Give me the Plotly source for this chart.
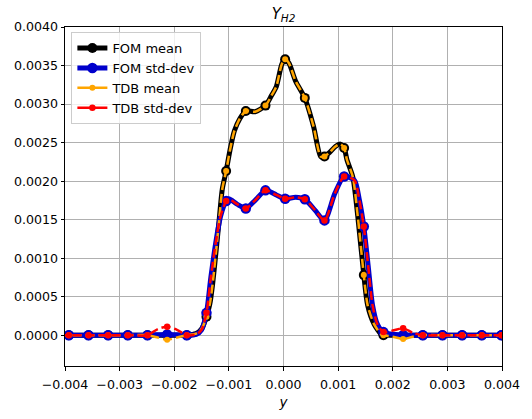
import plotly.graph_objects as go

# ---------------- data ----------------
x_marks = [-0.00393, -0.00357, -0.00321, -0.00285, -0.00249, -0.00213, -0.00177,
           -0.00141, -0.00105, -0.00069, -0.00033, 0.00003, 0.00039, 0.00075,
           0.00111, 0.00147, 0.00183, 0.00219, 0.00255, 0.00291, 0.00327,
           0.00363, 0.00399]
fom_mean_marks = [0, 0, 0, 0, 0, 0, 0, 0.00024, 0.00213, 0.00291, 0.00298, 0.00358,
                  0.00308, 0.00232, 0.00243, 0.00078, 0, 0, 0, 0, 0, 0, 0]
fom_std_marks = [0, 0, 0, 0, 0, 0.00001, 0, 0.00029, 0.00174, 0.001645, 0.00188,
                 0.00177, 0.001765, 0.00149, 0.00206, 0.00141, 0.00004, 0, 0, 0, 0, 0, 0]
tdb_mean_marks = [0, 0, 0, 0, 0, -0.00006, 0, 0.00024, 0.00213, 0.00291, 0.00298,
                  0.00358, 0.00308, 0.00232, 0.00243, 0.00078, 0, -0.00005, 0, 0, 0, 0, 0]
tdb_std_marks = [0, 0, 0, 0, 0, 0.00011, 0, 0.00029, 0.00174, 0.001645, 0.00188,
                 0.00177, 0.001765, 0.00149, 0.00206, 0.00141, 0.00004, 0.00009, 0, 0, 0, 0, 0]

x_fom_mean = [-0.0041, -0.00393, -0.00357, -0.00321, -0.00285, -0.00249, -0.00213,
              -0.00177, -0.0016, -0.0015, -0.00141, -0.00135, -0.0013, -0.00124,
              -0.00118, -0.00112, -0.00105, -0.00098, -0.0009, -0.0008, -0.00069,
              -0.00052, -0.00033, -0.00022, -0.00013, -0.00003, 0.00003, 0.0001,
              0.00022, 0.00039, 0.00055, 0.00068, 0.00075, 0.00084, 0.00095, 0.00104,
              0.00111, 0.00116, 0.00127, 0.00136, 0.00147, 0.00154, 0.00166, 0.00179,
              0.00183, 0.00219, 0.00255, 0.00291, 0.00327, 0.00363, 0.00399, 0.0041]
fom_mean = [0, 0, 0, 0, 0, 0, 0, 0, 0.00002, 0.00008, 0.00024, 0.0004, 0.00065,
            0.00105, 0.00148, 0.0019, 0.00213, 0.0024, 0.00265, 0.00281, 0.00291,
            0.0029, 0.00298, 0.00311, 0.00323, 0.00352, 0.00358, 0.00353, 0.0033,
            0.00308, 0.00271, 0.00232, 0.00232, 0.00237, 0.00245, 0.00248, 0.00243,
            0.00228, 0.00205, 0.00154, 0.00078, 0.00039, 0.00014, 0.00001, 0,
            0, 0, 0, 0, 0, 0, 0]

x_tdb_mean = [-0.0041, -0.00393, -0.00357, -0.00321, -0.00285, -0.00249, -0.0023,
              -0.00213, -0.00195, -0.00177, -0.0016, -0.0015, -0.00141, -0.00135,
              -0.0013, -0.00124, -0.00118, -0.00112, -0.00105, -0.00098, -0.0009,
              -0.0008, -0.00069, -0.00052, -0.00033, -0.00022, -0.00013, -0.00003,
              0.00003, 0.0001, 0.00022, 0.00039, 0.00055, 0.00068, 0.00075, 0.00084,
              0.00095, 0.00104, 0.00111, 0.00116, 0.00127, 0.00136, 0.00147, 0.00154,
              0.00166, 0.00179, 0.00183, 0.002, 0.00219, 0.00237, 0.00255, 0.00291,
              0.00327, 0.00363, 0.00399, 0.0041]
tdb_mean = [0, 0, 0, 0, 0, 0, -0.00003, -0.00006, -0.00003, 0, 0.00002, 0.00008,
            0.00024, 0.0004, 0.00065, 0.00105, 0.00148, 0.0019, 0.00213, 0.0024,
            0.00265, 0.00281, 0.00291, 0.0029, 0.00298, 0.00311, 0.00323, 0.00352,
            0.00358, 0.00353, 0.0033, 0.00308, 0.00271, 0.00232, 0.00232, 0.00237,
            0.00245, 0.00248, 0.00243, 0.00228, 0.00205, 0.00154, 0.00078, 0.00039,
            0.00014, 0.00001, 0, -0.00002, -0.00005, -0.00002, 0, 0, 0, 0, 0, 0]

x_fom_std = [-0.0041, -0.00393, -0.00357, -0.00321, -0.00285, -0.00249, -0.00213,
             -0.00177, -0.0016, -0.0015, -0.00141, -0.00133, -0.00124, -0.00115,
             -0.00105, -0.001, -0.00085, -0.00069, -0.00052, -0.00033, -0.00013,
             0.00003, 0.00022, 0.00039, 0.00058, 0.00075, 0.00094, 0.00111, 0.0013,
             0.00139, 0.00147, 0.00155, 0.00163, 0.00172, 0.00183, 0.00219, 0.00255,
             0.00291, 0.00327, 0.00363, 0.00399, 0.0041]
fom_std = [0, 0, 0, 0, 0, 0, 0.00001, 0, 0.00001, 0.00007, 0.00029, 0.00075, 0.0012,
           0.00155, 0.00174, 0.00177, 0.0017, 0.001645, 0.00175, 0.00188, 0.00182,
           0.00177, 0.00179, 0.001765, 0.00162, 0.00149, 0.00184, 0.00206, 0.00201,
           0.00175, 0.00141, 0.0009, 0.00039, 0.00014, 0.00004, 0, 0, 0, 0, 0, 0, 0]

x_tdb_std = [-0.0041, -0.00393, -0.00357, -0.00321, -0.00285, -0.00249, -0.0023,
             -0.00213, -0.00195, -0.00177, -0.0016, -0.0015, -0.00141, -0.00133,
             -0.00124, -0.00115, -0.00105, -0.001, -0.00085, -0.00069, -0.00052,
             -0.00033, -0.00013, 0.00003, 0.00022, 0.00039, 0.00058, 0.00075, 0.00094,
             0.00111, 0.0013, 0.00139, 0.00147, 0.00155, 0.00163, 0.00172, 0.00183,
             0.002, 0.00219, 0.00237, 0.00255, 0.00291, 0.00327, 0.00363, 0.00399,
             0.0041]
tdb_std = [0, 0, 0, 0, 0, 0, 0.00008, 0.00011, 0.00007, 0, 0.00001, 0.00007, 0.00029,
           0.00075, 0.0012, 0.00155, 0.00174, 0.00177, 0.0017, 0.001645, 0.00175,
           0.00188, 0.00182, 0.00177, 0.00179, 0.001765, 0.00162, 0.00149, 0.00184,
           0.00206, 0.00201, 0.00175, 0.00141, 0.0009, 0.00039, 0.00014, 0.00004,
           0.00006, 0.00009, 0.00003, 0, 0, 0, 0, 0, 0]

x_ticks = [-0.004, -0.003, -0.002, -0.001, 0.0, 0.001, 0.002, 0.003, 0.004]
y_ticks = [0.0, 0.0005, 0.001, 0.0015, 0.002, 0.0025, 0.003, 0.0035, 0.004]

names = ["FOM mean", "FOM std-dev", "TDB mean", "TDB std-dev"]

# ---------------- styles ----------------
series = [
    dict(name=names[0], x=x_fom_mean, y=fom_mean, ym=fom_mean_marks,
         color="#000000", width=5, dash="solid", msize=10),
    dict(name=names[1], x=x_fom_std, y=fom_std, ym=fom_std_marks,
         color="#0000cc", width=5, dash="solid", msize=10.5),
    dict(name=names[2], x=x_tdb_mean, y=tdb_mean, ym=tdb_mean_marks,
         color="#ffa500", width=2.5, dash="9px,4px", msize=6),
    dict(name=names[3], x=x_tdb_std, y=tdb_std, ym=tdb_std_marks,
         color="#ff0000", width=2.5, dash="9px,4px", msize=6.5),
]

fig = go.Figure()
for s in series:
    fig.add_trace(go.Scatter(
        x=s["x"], y=s["y"], mode="lines", showlegend=False, hoverinfo="skip",
        line=dict(color=s["color"], width=s["width"], dash=s["dash"],
                  shape="spline", smoothing=0.7)))
    fig.add_trace(go.Scatter(
        x=x_marks, y=s["ym"], mode="markers", showlegend=False,
        marker=dict(color=s["color"], size=s["msize"], line=dict(width=0))))

for s in series:
    fig.add_trace(go.Scatter(
        x=[None], y=[None], mode="lines+markers", name=s["name"],
        line=dict(color=s["color"], width=s["width"]),
        marker=dict(color=s["color"], size=s["msize"])))

axis_common = dict(
    showgrid=True, gridcolor="#b0b0b0", gridwidth=0.8, zeroline=False,
    showline=True, linecolor="black", linewidth=1, mirror=True,
    ticks="outside", ticklen=3.5, tickwidth=0.8, tickcolor="black",
    tickfont=dict(family="DejaVu Sans", size=12.6, color="black"),
)

fig.update_layout(
    width=532, height=419,
    margin=dict(l=64.5, r=21.5, t=26.7, b=46.7),
    paper_bgcolor="white", plot_bgcolor="white",
    font=dict(family="DejaVu Sans", color="black"),
    title=dict(text="<i>Y</i><sub><i>H2</i></sub>", x=0.5, xref="paper",
               y=1 - 14 / 419, yref="container", xanchor="center", yanchor="middle",
               font=dict(family="DejaVu Sans", size=15, color="black")),
    xaxis=dict(range=[-0.004, 0.004], tickvals=x_ticks, tickformat=".3f",
               ticklabelstandoff=3,
               title=dict(text="<i>y</i>", font=dict(size=13.5), standoff=6),
               **axis_common),
    yaxis=dict(range=[-0.0004, 0.004], tickvals=y_ticks, tickformat=".4f",
               **axis_common),
    legend=dict(x=0.0146, y=0.985, xanchor="left", yanchor="top",
                bgcolor="rgba(255,255,255,0.8)", bordercolor="#cccccc", borderwidth=1,
                font=dict(family="DejaVu Sans", size=13, color="black"),
                itemwidth=30),
)

fig.write_html("out.html")
